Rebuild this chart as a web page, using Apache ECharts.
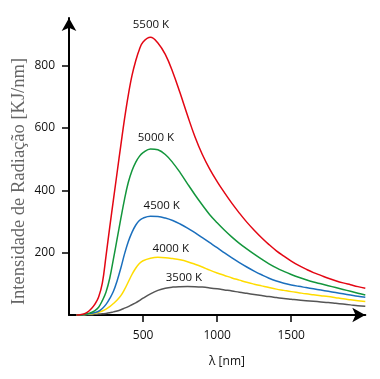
<!DOCTYPE html>
<html>
<head>
<meta charset="utf-8">
<script src="https://cdn.jsdelivr.net/npm/echarts@6/dist/echarts.min.js"></script>
<style>html,body{margin:0;padding:0;background:#fff}#c{width:380px;height:379px}</style>
</head>
<body>
<div id="c"></div>
<script>
// Data (wavelength in nm, intensity in KJ/nm)
const lambda = [50, 75, 100, 125, 150, 175, 200, 225, 250, 275, 300, 325, 350, 375, 400, 425, 450, 475, 500,
  550, 600, 650, 700, 750, 800, 850, 900, 950, 1000, 1050, 1100, 1150, 1200, 1250, 1300, 1350, 1400, 1450, 1500,
  1550, 1600, 1650, 1700, 1750, 1800, 1850, 1900, 1950, 2000];
const val5500 = [0, 1, 3, 9, 20, 35, 58, 102, 190, 282, 370, 458, 545, 630, 705, 768, 815, 852, 876,
  891, 873, 836, 780, 712, 640, 572, 515, 468, 428, 392, 358, 327, 298, 272, 248, 226, 206, 189, 173,
  159, 147, 136, 127, 118, 110, 103, 97, 91, 86];
const val5000 = [0, 0, 2, 4, 8, 14, 25, 46, 74, 118, 180, 245, 310, 372, 425, 463, 490, 509, 521,
  533, 530, 515, 489, 457, 421, 386, 353, 322, 296, 272, 250, 230, 212, 195, 179, 164, 151, 140, 130,
  121, 113, 106, 100, 94, 88, 82, 76, 70, 64];
const val4500 = [0, 0, 1, 3, 5, 8, 12, 21, 34, 53, 76, 110, 151, 196, 235, 265, 288, 303, 311,
  317, 316, 311, 303, 292, 279, 264, 248, 232, 216, 199, 183, 168, 154, 141, 129, 118, 109, 102, 96.5,
  92, 88, 84, 80, 76, 72, 68, 64, 60, 57];
const val4000 = [0, 0, 1, 2, 3, 6, 9, 13, 19, 27, 37, 48, 62, 82, 106, 130, 150, 165, 174,
  182, 185, 184, 181, 177, 171, 163, 154, 144, 135, 127, 119, 112, 105, 99, 93.5, 88, 83, 79, 75,
  71.5, 68, 65, 62, 59, 55.5, 52, 49, 46, 43];
const val3500 = [0, 0, 0, 1, 1, 2, 3, 4, 5, 7, 10, 13, 17, 22, 27, 33, 39, 46, 54,
  68, 79, 86, 89.5, 91, 91.5, 91, 89.5, 87, 84, 80.5, 77, 73, 69.5, 66, 62.5, 59, 56, 53, 50.5,
  48, 46, 44, 42, 40, 37.5, 35, 32.5, 30, 28];

const curveNames = ['5500 K', '5000 K', '4500 K', '4000 K', '3500 K'];
const xTicks = [500, 1000, 1500];
const yTicks = [200, 400, 600, 800];
const yTitle = 'Intensidade de Radiação [KJ/nm]';
const xTitle = 'λ [nm]';

const vals = [val5500, val5000, val4500, val4000, val3500];
const colors = ['#e30613', '#13963c', '#1b6fbd', '#ffdc00', '#555555'];
const labelAt = [[553, 931], [587, 570], [626, 350], [687, 212], [776, 119]];

const chart = echarts.init(document.getElementById('c'), null, {renderer: 'canvas'});
const series = curveNames.map((n, i) => ({
  name: n,
  type: 'line',
  data: lambda.map((x, k) => [x, vals[i][k]]),
  smooth: 0.4,
  showSymbol: false,
  clip: false,
  lineStyle: {color: colors[i], width: 1.5},
  itemStyle: {color: colors[i]},
  z: 3 + (4 - i),
  markPoint: {
    symbol: 'circle', symbolSize: 0, silent: true,
    label: {show: true, position: 'inside', formatter: n, color: '#111', fontFamily: 'Open Sans', fontSize: 11.5},
    data: [{coord: labelAt[i], value: n}]
  }
}));

chart.setOption({
  animation: false,
  grid: {left: 69, right: 14.7, top: 18, bottom: 64, containLabel: false},
  xAxis: {
    type: 'value', min: 0, max: 2000,
    axisLine: {show: true, lineStyle: {color: '#000', width: 2}, symbol: ['none', 'arrow'], symbolSize: [11, 13]},
    axisTick: {show: true, length: 7, lineStyle: {color: '#000', width: 1.5}, customValues: xTicks},
    axisLabel: {customValues: xTicks, formatter: v => String(v), color: '#111', fontFamily: 'Open Sans', fontSize: 12, margin: 15},
    splitLine: {show: false}
  },
  yAxis: {
    type: 'value', min: 0, max: 953,
    axisLine: {show: true, lineStyle: {color: '#000', width: 2}, symbol: ['none', 'arrow'], symbolSize: [11, 13]},
    axisTick: {show: true, length: 7, lineStyle: {color: '#000', width: 1.5}, customValues: yTicks},
    axisLabel: {customValues: yTicks, formatter: v => String(v), color: '#111', fontFamily: 'Open Sans', fontSize: 12, margin: 14},
    splitLine: {show: false}
  },
  graphic: [
    {type: 'text', x: 19, y: 181.5, rotation: Math.PI / 2,
     style: {text: yTitle, x: 0, y: 0, align: 'center', verticalAlign: 'middle', fill: '#666', font: '18.5px "Liberation Serif"'}},
    {type: 'text', x: 227, y: 362,
     style: {text: xTitle, x: 0, y: 0, align: 'center', verticalAlign: 'middle', fill: '#111', font: '12px "Open Sans"'}}
  ],
  series: series
});
</script>
</body>
</html>
